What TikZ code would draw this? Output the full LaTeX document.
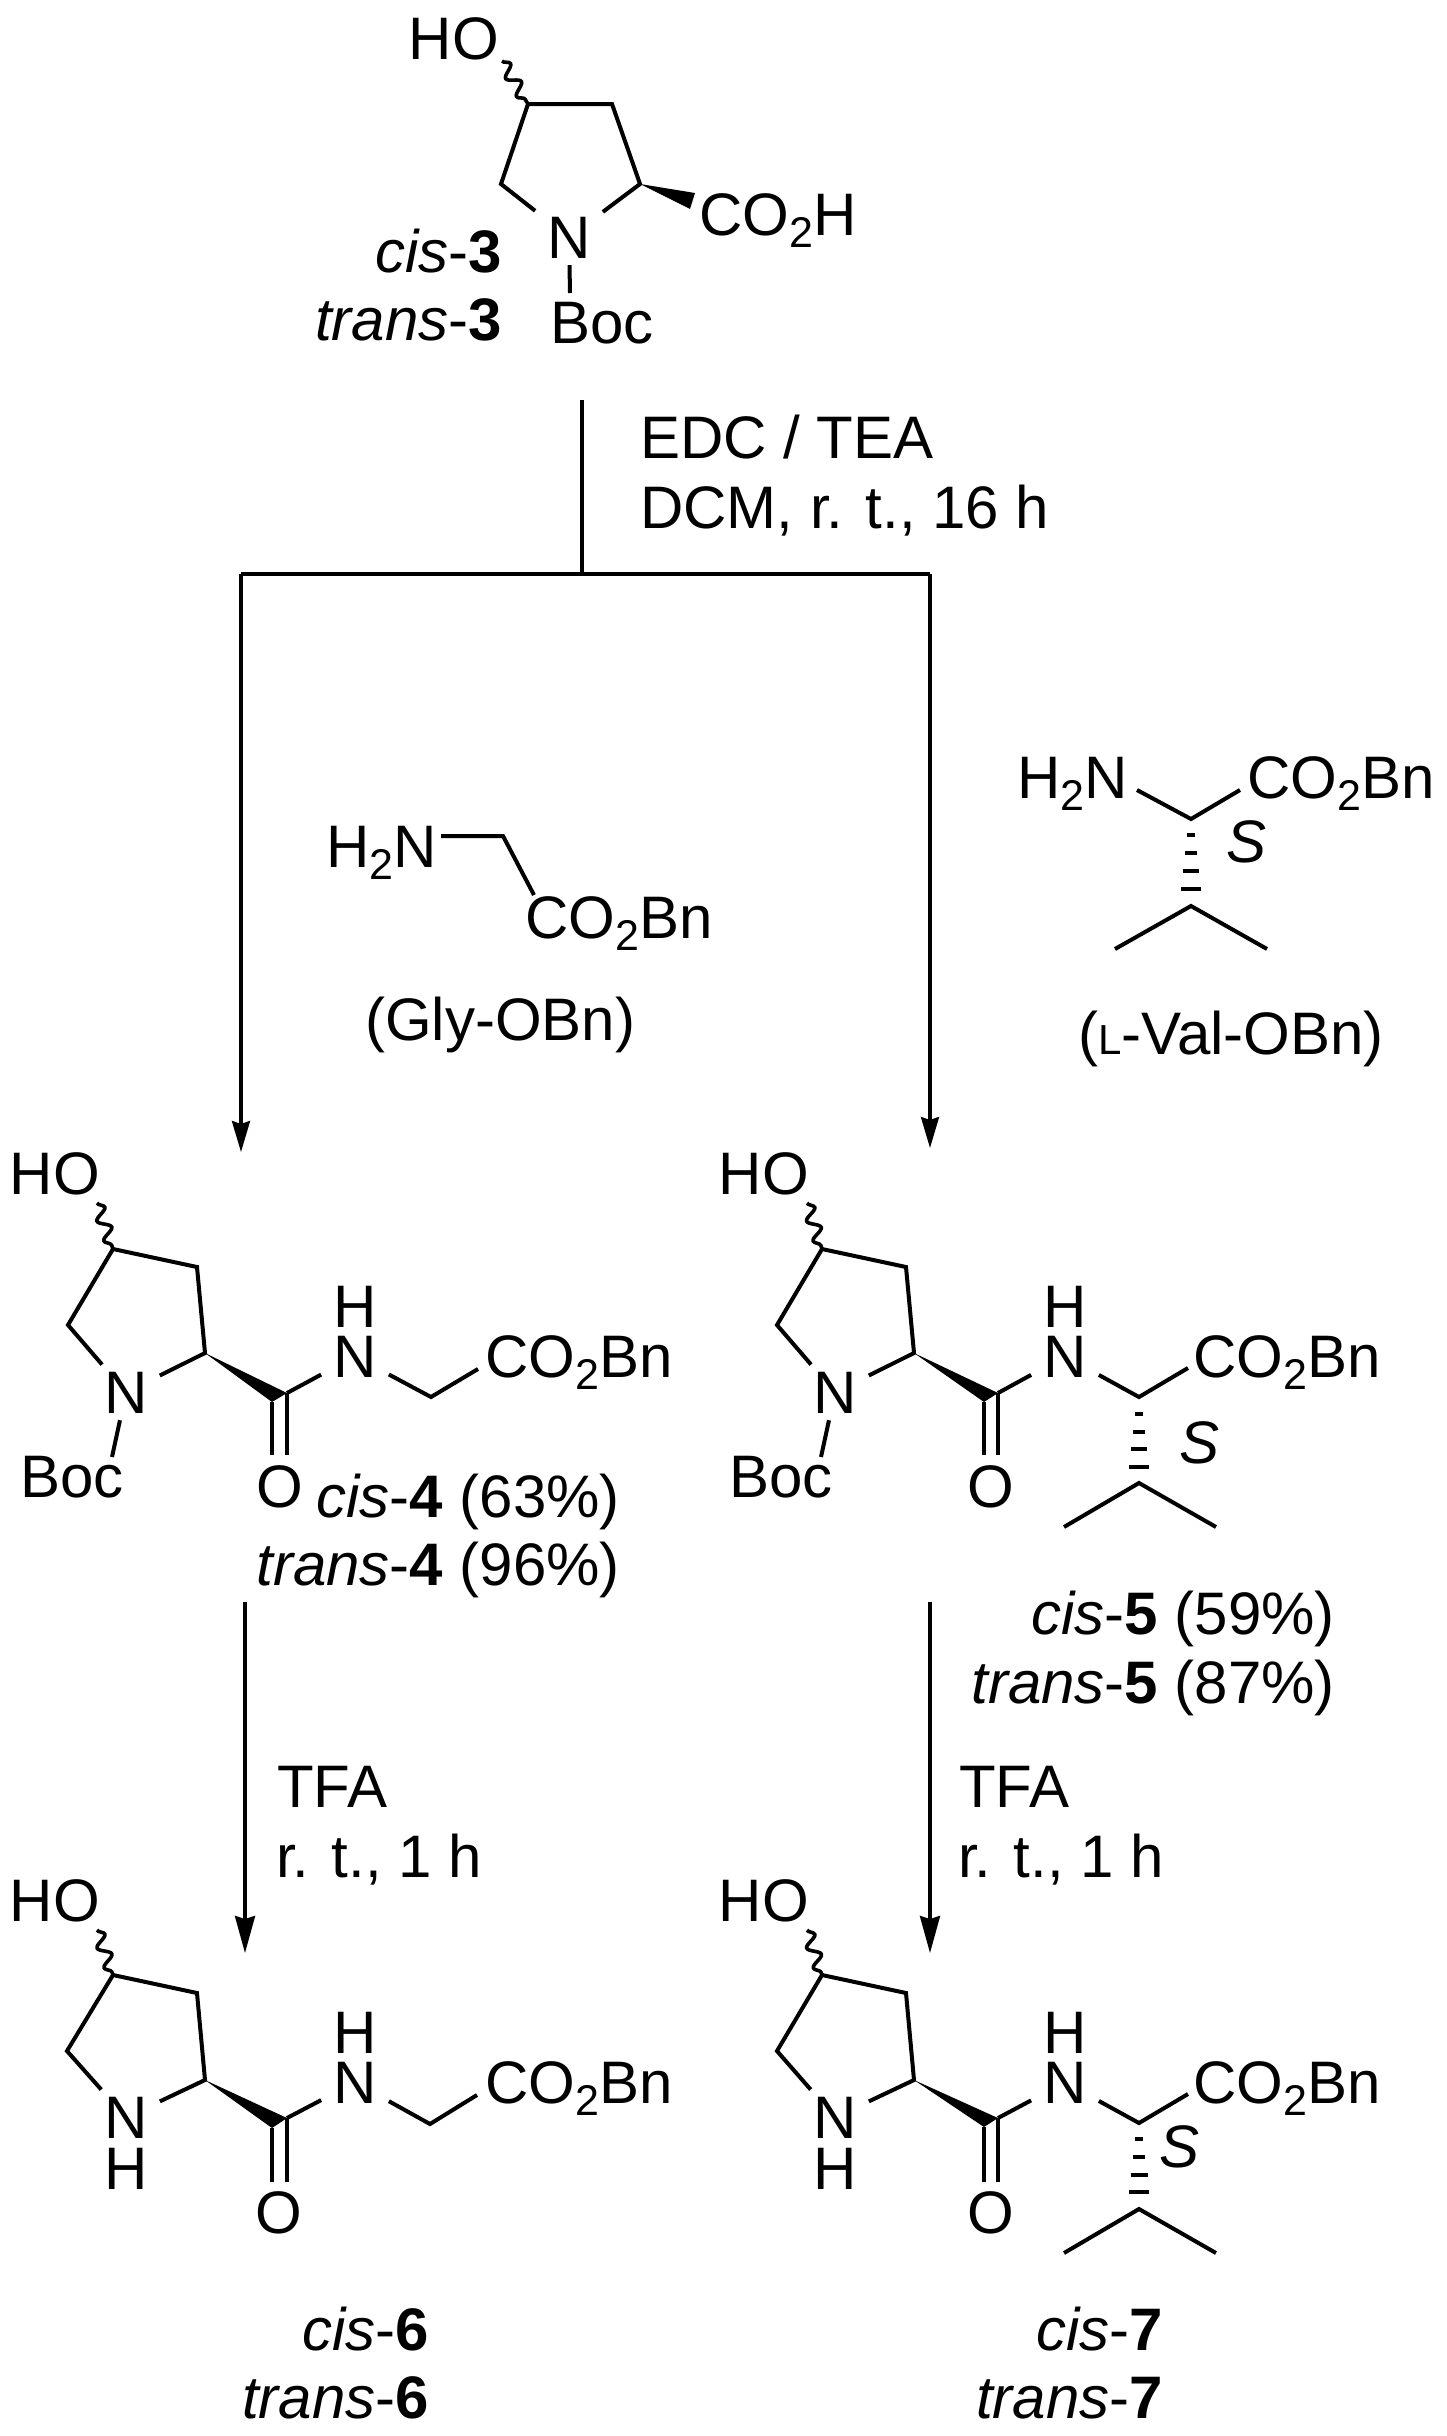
\documentclass[tikz,border=0pt]{standalone}
\usepackage{fontspec}
\setmainfont{Liberation Sans}
\usetikzlibrary{arrows.meta,decorations.pathmorphing}
\newcommand{\chemfont}{\fontsize{60}{64}\selectfont}
\newcommand{\subtwo}{\raisebox{-12pt}{\fontsize{43}{43}\selectfont 2}}
\tikzset{
	atom/.style={anchor=base,inner xsep=12pt,inner ysep=7pt,font=\chemfont},
	free/.style={anchor=base,inner sep=0pt,font=\chemfont},
	lab/.style={anchor=base west,inner sep=0pt,font=\chemfont},
	labr/.style={anchor=base east,inner sep=0pt,font=\chemfont},
	bond/.style={line width=4pt,line join=miter},
	wavy/.style={line width=3.6pt,decorate,decoration={snake,amplitude=6pt,segment length=21pt}},
	hash/.style={line width=4pt},
	rxn/.style={line width=3.2pt},
	rxnA/.style={line width=3.2pt,-{Stealth[length=31pt,width=18pt,inset=3pt]}},
	rxnB/.style={line width=3.2pt,-{Stealth[length=37pt,width=20pt,inset=3pt]}},
}
\begin{document}
\begin{tikzpicture}[x=1pt,y=-1pt]
	\useasboundingbox (0,0) rectangle (1446,2436);
	% reaction arrows
	\coordinate (start) at (582,400);
	\coordinate (fork) at (582,573);
	\coordinate (forkl) at (241,574);
	\coordinate (forkr) at (930,574);
	\coordinate (tip4) at (241,1152);
	\coordinate (tip5) at (930,1148);
	\coordinate (from4) at (245,1602);
	\coordinate (from5) at (930,1602);
	\coordinate (tip6) at (245,1953);
	\coordinate (tip7) at (930,1953);
	\draw[rxn] (start) -- (fork);
	\draw[rxn] (forkl) -- (forkr);
	\draw[rxnA] (forkl) -- (tip4);
	\draw[rxnA] (forkr) -- (tip5);
	\draw[rxnB] (from4) -- (tip6);
	\draw[rxnB] (from5) -- (tip7);
	\node[lab] (edc) at (640,458) {EDC / TEA};
	\node[lab] (dcm) at (640,528) {DCM, r. t., 16 h};
	\node[lab] (tfal) at (277,1807) {TFA};
	\node[lab] (rtl) at (276,1877) {r. t., 1 h};
	\node[lab] (tfar) at (959,1807) {TFA};
	\node[lab] (rtr) at (958,1877) {r. t., 1 h};
	% 3
	\node[labr] (ho3) at (499,59) {HO};
	\coordinate (w3) at (502,61);
	\coordinate (a3) at (528,104);
	\coordinate (b3) at (612,104);
	\coordinate (c3) at (640,184);
	\coordinate (d3) at (501,184);
	\coordinate (e3) at (570,293);
	\coordinate (f3) at (695,193);
	\coordinate (g3) at (690,209);
	\node[atom] (n3) at (569,258) {N};
	\node[lab] (boc3) at (550,343) {Boc};
	\node[lab] (acid3) at (699,235) {CO\subtwo H};
	\node[labr] (cis3) at (502,272) {\textit{cis}-\textbf{3}};
	\node[labr] (trans3) at (502,340) {\textit{trans}-\textbf{3}};
	\draw[wavy] (w3) -- (a3);
	\draw[bond] (n3) -- (d3) -- (a3) -- (b3) -- (c3) -- (n3);
	\draw[bond] (n3) -- (e3);
	\fill (c3) -- (f3) -- (g3) -- cycle;
	% Gly-OBn
	\node[lab] (h2n) at (326,867) {H\subtwo N};
	\coordinate (g1) at (441,836);
	\coordinate (g2) at (503,836);
	\coordinate (g3a) at (534,895);
	\node[lab] (est) at (525,938) {CO\subtwo Bn};
	\node[lab] (gly) at (365,1040) {(Gly-OBn)};
	\draw[bond] (g1) -- (g2) -- (g3a);
	% L-Val-OBn
	\node[lab] (h2nv) at (1017,798) {H\subtwo N};
	\coordinate (v1) at (1137,790);
	\coordinate (v2) at (1191,819);
	\coordinate (v3) at (1240,790);
	\coordinate (v4) at (1191,906);
	\coordinate (v5) at (1115,949);
	\coordinate (v6) at (1267,949);
	\node[lab] (estv) at (1247,798) {CO\subtwo Bn};
	\node[lab] (sv) at (1226,862) {\textit{S}};
	\node[lab] (val) at (1078,1054) {({\fontsize{42}{42}\selectfont L}-Val-OBn)};
	\draw[bond] (v1) -- (v2) -- (v3);
	\draw[bond] (v5) -- (v4) -- (v6);
	\draw[hash] (1187,835) -- (1195,835) (1185,853) -- (1197,853) (1183,871) -- (1199,871) (1181,889) -- (1201,889);
	% 4
	\node[labr] (ho4) at (100,1194) {HO};
	\coordinate (w4) at (97,1203);
	\coordinate (a4) at (113,1249);
	\coordinate (b4) at (197,1267);
	\coordinate (c4) at (205,1353);
	\coordinate (d4) at (68,1325);
	\coordinate (e4) at (112,1457);
	\coordinate (f4) at (287,1393);
	\coordinate (g4) at (272,1402);
	\coordinate (i4) at (272,1455);
	\coordinate (j4) at (287,1455);
	\coordinate (k4) at (431,1397);
	\coordinate (l4) at (478,1369);
	\node[atom] (n4) at (126,1413) {N};
	\node[lab] (boc4) at (20,1497) {Boc};
	\node[free] (o4) at (280,1507) {O};
	\node[free] (h4) at (355,1327) {H};
	\node[atom] (nh4) at (355,1377) {N};
	\node[lab] (est4) at (485,1377) {CO\subtwo Bn};
	\node[labr] (cis4) at (620,1517) {\textit{cis}-\textbf{4} (63\%)};
	\node[labr] (trans4) at (620,1585) {\textit{trans}-\textbf{4} (96\%)};
	\draw[wavy] (w4) -- (a4);
	\draw[bond] (n4) -- (d4) -- (a4) -- (b4) -- (c4) -- (n4);
	\draw[bond] (n4) -- (e4);
	\fill (c4) -- (f4) -- (g4) -- cycle;
	\draw[bond] (g4) -- (i4);
	\draw[bond] (f4) -- (j4);
	\draw[bond] (f4) -- (nh4);
	\draw[bond] (nh4) -- (k4) -- (l4);
	% 5
	\node[labr] (ho5) at (809,1194) {HO};
	\coordinate (w5) at (807,1203);
	\coordinate (a5) at (822,1249);
	\coordinate (b5) at (906,1267);
	\coordinate (c5) at (914,1353);
	\coordinate (d5) at (777,1325);
	\coordinate (e5) at (821,1457);
	\coordinate (f5) at (998,1393);
	\coordinate (g5) at (984,1402);
	\coordinate (i5) at (984,1455);
	\coordinate (j5) at (998,1455);
	\coordinate (k5) at (1139,1397);
	\coordinate (l5) at (1188,1368);
	\coordinate (m5) at (1139,1483);
	\coordinate (p5) at (1064,1527);
	\coordinate (q5) at (1216,1527);
	\node[atom] (n5) at (835,1413) {N};
	\node[lab] (boc5) at (729,1497) {Boc};
	\node[free] (o5) at (991,1507) {O};
	\node[free] (h5) at (1065,1327) {H};
	\node[atom] (nh5) at (1065,1377) {N};
	\node[lab] (est5) at (1193,1377) {CO\subtwo Bn};
	\node[lab] (s5) at (1179,1463) {\textit{S}};
	\node[labr] (cis5) at (1335,1634) {\textit{cis}-\textbf{5} (59\%)};
	\node[labr] (trans5) at (1335,1703) {\textit{trans}-\textbf{5} (87\%)};
	\draw[wavy] (w5) -- (a5);
	\draw[bond] (n5) -- (d5) -- (a5) -- (b5) -- (c5) -- (n5);
	\draw[bond] (n5) -- (e5);
	\fill (c5) -- (f5) -- (g5) -- cycle;
	\draw[bond] (g5) -- (i5);
	\draw[bond] (f5) -- (j5);
	\draw[bond] (f5) -- (nh5);
	\draw[bond] (nh5) -- (k5) -- (l5);
	\draw[bond] (p5) -- (m5) -- (q5);
	\draw[hash] (1135,1414) -- (1143,1414) (1133,1432) -- (1145,1432) (1131,1449) -- (1147,1449) (1129,1467) -- (1149,1467);
	% 6
	\node[labr] (ho6) at (100,1921) {HO};
	\coordinate (w6) at (97,1930);
	\coordinate (a6) at (113,1975);
	\coordinate (b6) at (197,1993);
	\coordinate (c6) at (205,2080);
	\coordinate (d6) at (67,2051);
	\coordinate (f6) at (287,2118);
	\coordinate (g6) at (272,2128);
	\coordinate (i6) at (272,2182);
	\coordinate (j6) at (287,2182);
	\coordinate (k6) at (430,2124);
	\coordinate (l6) at (477,2095);
	\node[atom] (n6) at (126,2138) {N};
	\node[free] (hn6) at (126,2189) {H};
	\node[free] (o6) at (279,2233) {O};
	\node[free] (h6) at (355,2053) {H};
	\node[atom] (nh6) at (355,2103) {N};
	\node[lab] (est6) at (485,2103) {CO\subtwo Bn};
	\node[labr] (cis6) at (429,2350) {\textit{cis}-\textbf{6}};
	\node[labr] (trans6) at (429,2418) {\textit{trans}-\textbf{6}};
	\draw[wavy] (w6) -- (a6);
	\draw[bond] (n6) -- (d6) -- (a6) -- (b6) -- (c6) -- (n6);
	\fill (c6) -- (f6) -- (g6) -- cycle;
	\draw[bond] (g6) -- (i6);
	\draw[bond] (f6) -- (j6);
	\draw[bond] (f6) -- (nh6);
	\draw[bond] (nh6) -- (k6) -- (l6);
	% 7
	\node[labr] (ho7) at (809,1921) {HO};
	\coordinate (w7) at (807,1930);
	\coordinate (a7) at (822,1975);
	\coordinate (b7) at (906,1993);
	\coordinate (c7) at (914,2080);
	\coordinate (d7) at (777,2051);
	\coordinate (f7) at (998,2118);
	\coordinate (g7) at (984,2127);
	\coordinate (i7) at (984,2182);
	\coordinate (j7) at (998,2182);
	\coordinate (k7) at (1139,2123);
	\coordinate (l7) at (1188,2094);
	\coordinate (m7) at (1139,2209);
	\coordinate (p7) at (1064,2253);
	\coordinate (q7) at (1216,2253);
	\node[atom] (n7) at (835,2138) {N};
	\node[free] (hn7) at (835,2189) {H};
	\node[free] (o7) at (991,2233) {O};
	\node[free] (h7) at (1065,2053) {H};
	\node[atom] (nh7) at (1065,2103) {N};
	\node[lab] (est7) at (1193,2103) {CO\subtwo Bn};
	\node[lab] (s7) at (1159,2167) {\textit{S}};
	\node[labr] (cis7) at (1163,2350) {\textit{cis}-\textbf{7}};
	\node[labr] (trans7) at (1163,2418) {\textit{trans}-\textbf{7}};
	\draw[wavy] (w7) -- (a7);
	\draw[bond] (n7) -- (d7) -- (a7) -- (b7) -- (c7) -- (n7);
	\fill (c7) -- (f7) -- (g7) -- cycle;
	\draw[bond] (g7) -- (i7);
	\draw[bond] (f7) -- (j7);
	\draw[bond] (f7) -- (nh7);
	\draw[bond] (nh7) -- (k7) -- (l7);
	\draw[bond] (p7) -- (m7) -- (q7);
	\draw[hash] (1135,2139) -- (1143,2139) (1133,2157) -- (1145,2157) (1130.5,2175) -- (1147.5,2175) (1129,2192) -- (1149,2192);
\end{tikzpicture}
\end{document}
